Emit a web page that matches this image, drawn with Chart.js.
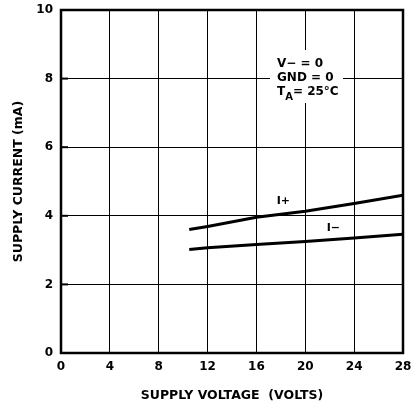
<!DOCTYPE html>
<html>
<head>
<meta charset="utf-8">
<script src="https://cdn.jsdelivr.net/npm/chart.js@4"></script>
<style>
html,body{margin:0;padding:0;background:#fff;}
#wrap{width:416px;height:406px;position:relative;}
</style>
</head>
<body>
<div id="wrap"><canvas id="c" width="416" height="406"></canvas></div>
<script>
// ---- data ----
const voltage = [10.5, 12, 16, 20, 24, 28];
const iPlus   = [3.6, 3.69, 3.96, 4.13, 4.36, 4.6];
const iMinus  = [3.02, 3.07, 3.16, 3.25, 3.35, 3.46];
const xTicks = [0, 4, 8, 12, 16, 20, 24, 28];
const yTicks = [0, 2, 4, 6, 8, 10];
const seriesLabels = ['I+', 'I\u2212'];
const noteLines = ['V\u2212 = 0', 'GND = 0'];
const xTitle = 'SUPPLY VOLTAGE  (VOLTS)';
const yTitle = 'SUPPLY CURRENT (mA)';

const FONT = '"DejaVu Sans", sans-serif';

const toPts = (xs, ys) => xs.map((x, i) => ({x: x, y: ys[i]}));

const annot = {
  id: 'annot',
  afterDraw(chart) {
    const {ctx, chartArea: a, scales} = chart;
    const xs = scales.x, ys = scales.y;
    ctx.save();
    // frame
    ctx.strokeStyle = '#000';
    ctx.lineWidth = 2.5;
    ctx.strokeRect(a.left, a.top, a.right - a.left, a.bottom - a.top);
    // short inward ticks on the y axis
    ctx.lineWidth = 2;
    ys.ticks.forEach(t => {
      const py = ys.getPixelForValue(t.value);
      ctx.beginPath();
      ctx.moveTo(a.left, py);
      ctx.lineTo(a.left + 7, py);
      ctx.stroke();
    });
    // note box
    ctx.fillStyle = '#fff';
    ctx.fillRect(270, 50, 73, 53);
    ctx.fillStyle = '#000';
    ctx.font = 'bold 12px ' + FONT;
    ctx.textAlign = 'left';
    ctx.textBaseline = 'alphabetic';
    ctx.fillText(noteLines[0], 277, 67);
    ctx.fillText(noteLines[1], 277, 81);
    ctx.fillText('T', 277, 95);
    const tw = ctx.measureText('T').width;
    ctx.font = 'bold 10px ' + FONT;
    ctx.fillText('A', 277 + tw, 100);
    const aw = ctx.measureText('A').width;
    ctx.font = 'bold 12px ' + FONT;
    ctx.fillText('= 25\u00B0C', 277 + tw + aw, 95);
    // series labels
    ctx.textAlign = 'center';
    ctx.textBaseline = 'middle';
    ctx.font = 'bold 11px ' + FONT;
    ctx.fillText(seriesLabels[0], xs.getPixelForValue(18.2), ys.getPixelForValue(4.44));
    ctx.fillText(seriesLabels[1], xs.getPixelForValue(22.3), ys.getPixelForValue(3.65));
    ctx.restore();
  }
};

new Chart(document.getElementById('c'), {
  type: 'line',
  data: {
    datasets: [
      {label: seriesLabels[0], data: toPts(voltage, iPlus), borderColor: '#000', borderWidth: 3, pointRadius: 0, tension: 0, fill: false},
      {label: seriesLabels[1], data: toPts(voltage, iMinus), borderColor: '#000', borderWidth: 3, pointRadius: 0, tension: 0, fill: false}
    ]
  },
  options: {
    responsive: false,
    animation: false,
    devicePixelRatio: 1,
    layout: {padding: {top: 10, right: 13, left: 0, bottom: 0}},
    plugins: {legend: {display: false}, tooltip: {enabled: false}},
    scales: {
      x: {
        type: 'linear', min: 0, max: 28,
        afterBuildTicks(s) { s.ticks = xTicks.map(v => ({value: v})); },
        afterFit(s) { s.height = 53; },
        grid: {color: '#000', lineWidth: 1, drawTicks: true, tickLength: 7, tickColor: 'rgba(0,0,0,0)'},
        border: {display: false},
        ticks: {color: '#000', padding: 0, font: {family: FONT, size: 12, weight: 'bold'}, maxRotation: 0, autoSkip: false},
        title: {display: true, text: xTitle, color: '#000', font: {family: FONT, size: 12.5, weight: 'bold'}, padding: {top: 0, bottom: 3}}
      },
      y: {
        min: 0, max: 10,
        afterBuildTicks(s) { s.ticks = yTicks.map(v => ({value: v})); },
        afterFit(s) { s.width = 61; },
        grid: {color: '#000', lineWidth: 1, drawTicks: true, tickLength: 8, tickColor: 'rgba(0,0,0,0)'},
        border: {display: false},
        ticks: {color: '#000', padding: 0, font: {family: FONT, size: 12, weight: 'bold'}, autoSkip: false},
        title: {display: true, text: yTitle, color: '#000', font: {family: FONT, size: 12.5, weight: 'bold'}, padding: {top: 11, bottom: 0}}
      }
    }
  },
  plugins: [annot]
});
</script>
</body>
</html>
